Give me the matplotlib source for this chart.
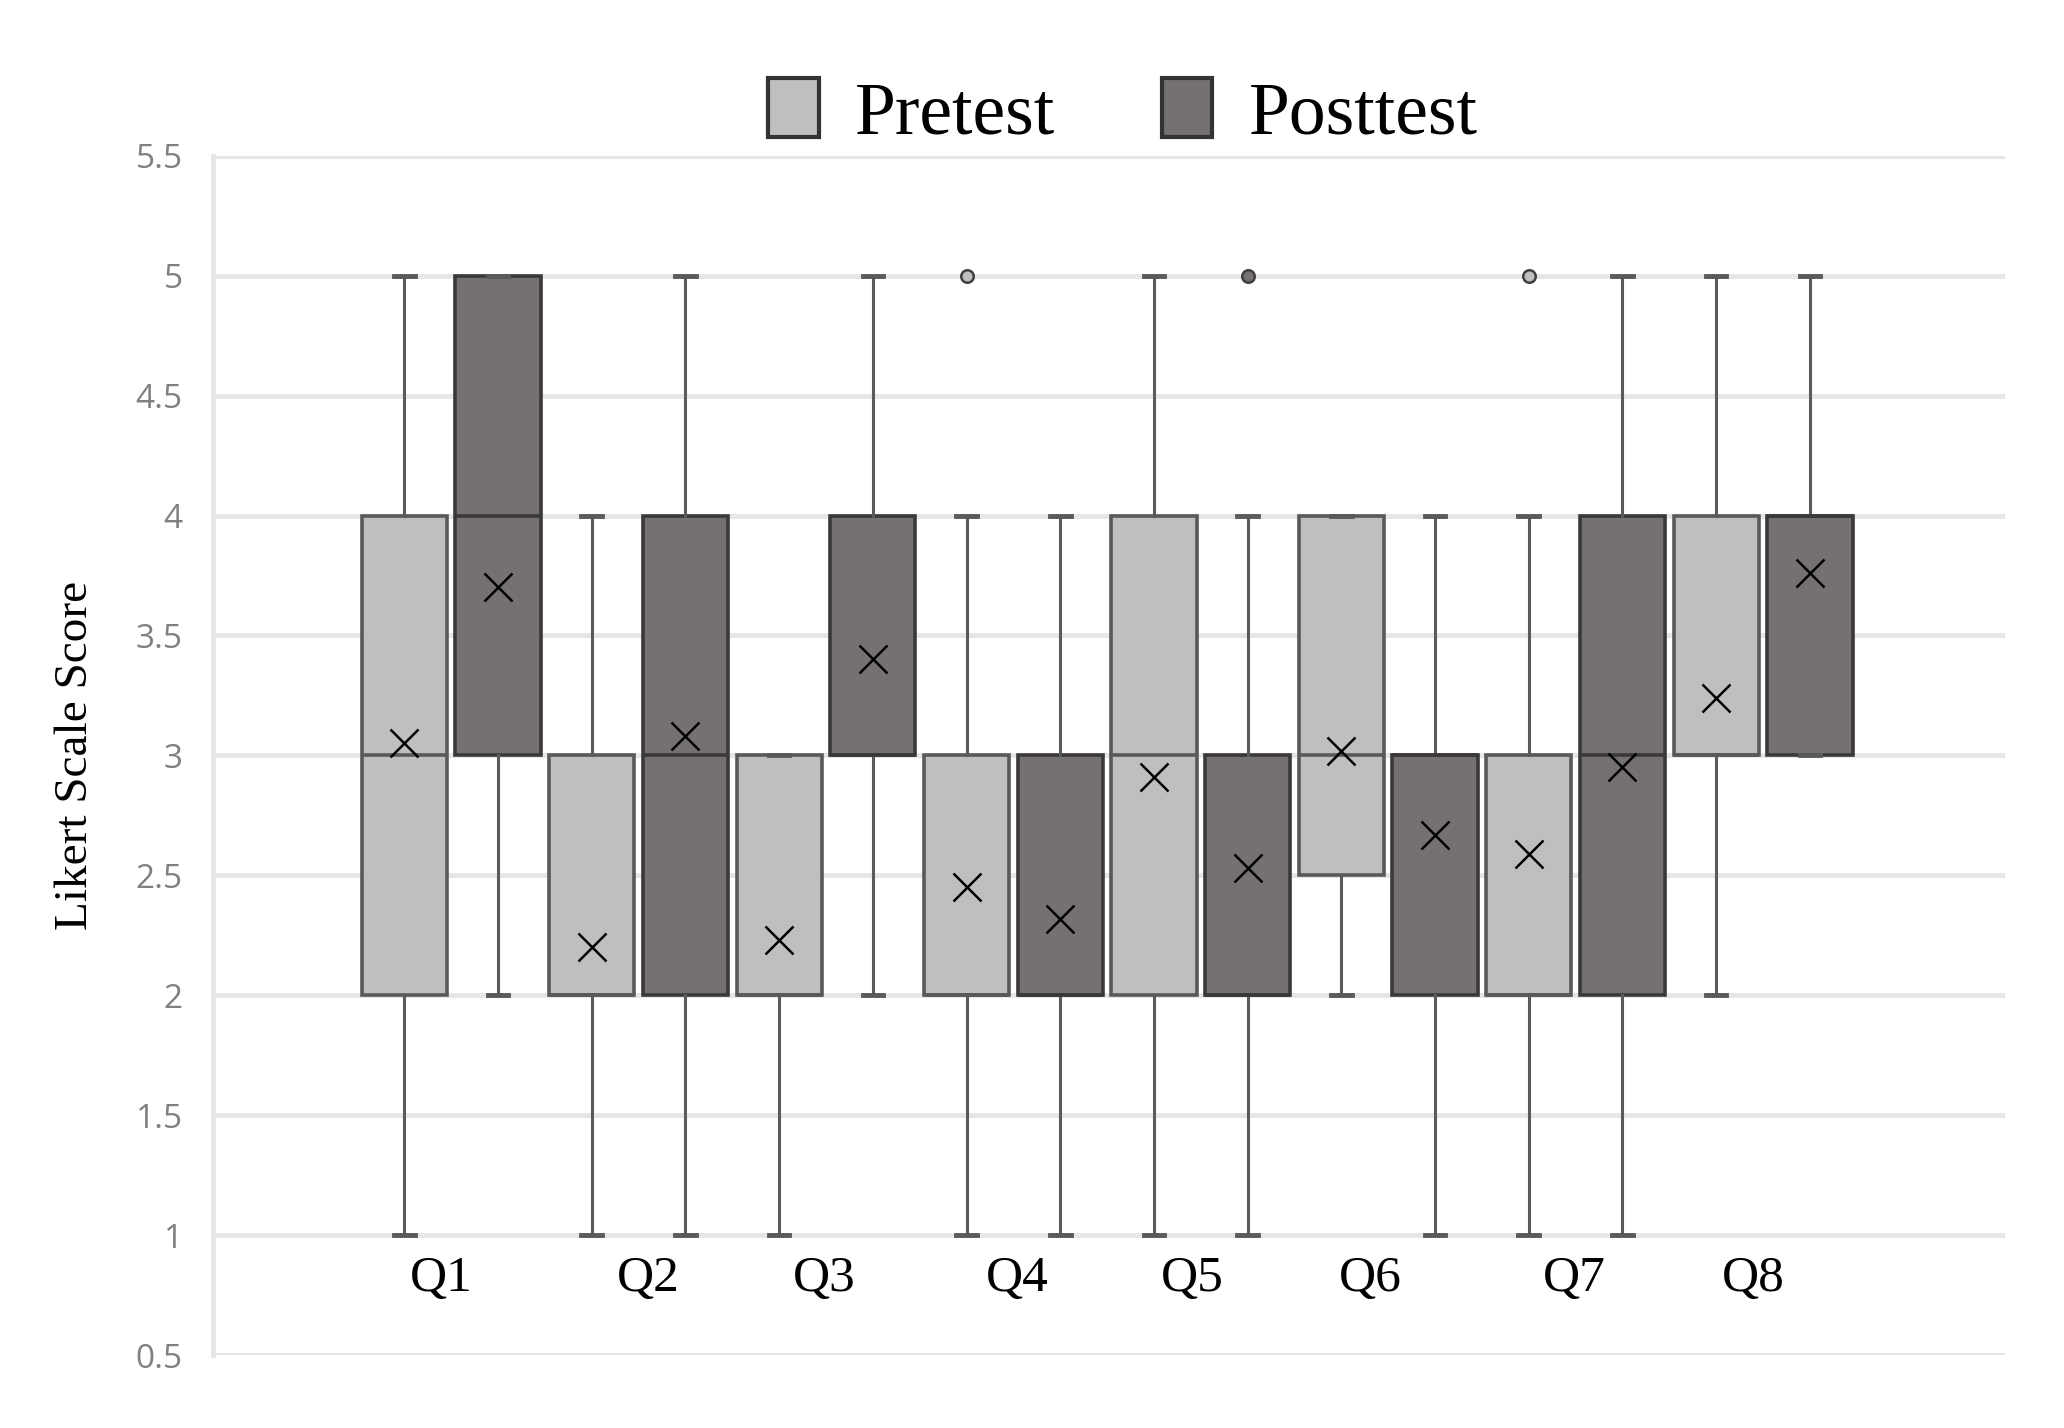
import matplotlib
matplotlib.use("Agg")
import matplotlib.pyplot as plt
from matplotlib.patches import Patch

questions = ["Q1", "Q2", "Q3", "Q4", "Q5", "Q6", "Q7", "Q8"]

# box statistics (Likert scores)
pre_lo    = [1, 1, 1, 1, 1, 2, 1, 2]
pre_q1    = [2, 2, 2, 2, 2, 2.5, 2, 3]
pre_med   = [3, 2, 2, 2, 3, 3, 2, 3]
pre_q3    = [4, 3, 3, 3, 4, 4, 3, 4]
pre_hi    = [5, 4, 3, 4, 5, 4, 4, 5]
pre_mean  = [3.05, 2.20, 2.23, 2.45, 2.91, 3.02, 2.59, 3.24]
pre_out   = [[], [], [], [5], [], [], [5], []]

post_lo   = [2, 1, 2, 1, 1, 1, 1, 3]
post_q1   = [3, 2, 3, 2, 2, 2, 2, 3]
post_med  = [4, 3, 3, 2, 2, 3, 3, 4]
post_q3   = [5, 4, 4, 3, 3, 3, 4, 4]
post_hi   = [5, 5, 5, 4, 4, 4, 5, 5]
post_mean = [3.70, 3.08, 3.40, 2.32, 2.53, 2.67, 2.95, 3.76]
post_out  = [[], [], [], [], [5], [], [], []]

# category labels sit where the original put them (not centred on the pairs)
label_pos = [1.39, 3.60, 5.48, 7.54, 9.41, 11.31, 13.49, 15.40]

pre_fill, pre_edge = "#bfbfbf", "#595959"
post_fill, post_edge = "#767171", "#3a3838"
grid_col = "#e6e6e6"

fig = plt.figure(figsize=(20.64, 14.28), dpi=100)
ax = fig.add_axes([0.1033, 0.051, 0.868, 0.840])


def stats(lo, q1, med, q3, hi, mean, out):
    return [dict(whislo=a, q1=b, med=c, q3=d, whishi=e, mean=m, fliers=f)
            for a, b, c, d, e, m, f in zip(lo, q1, med, q3, hi, mean, out)]


def draw(st, pos, fill, edge):
    ax.bxp(st, positions=pos, widths=0.91, capwidths=0.22,
           showmeans=True, patch_artist=True, manage_ticks=False,
           boxprops=dict(facecolor=fill, edgecolor=edge, linewidth=2.6),
           medianprops=dict(color=edge, linewidth=2.6),
           whiskerprops=dict(color="#5a5a5a", linewidth=2.2),
           capprops=dict(color="#5a5a5a", linewidth=3.5),
           meanprops=dict(marker="x", markersize=20, markeredgecolor="black",
                          markeredgewidth=1.8),
           flierprops=dict(marker="o", markersize=9, markerfacecolor=fill,
                           markeredgecolor="#404040", markeredgewidth=1.8),
           zorder=3)


pre_pos = [2 * i + 1 for i in range(len(questions))]
post_pos = [2 * i + 2 for i in range(len(questions))]
draw(stats(pre_lo, pre_q1, pre_med, pre_q3, pre_hi, pre_mean, pre_out), pre_pos, pre_fill, pre_edge)
draw(stats(post_lo, post_q1, post_med, post_q3, post_hi, post_mean, post_out), post_pos, post_fill, post_edge)

ax.set_xlim(-1.04, 18.08)
ax.set_ylim(0.5, 5.5)
yt = [0.5 + 0.5 * i for i in range(11)]
ax.set_yticks(yt)
ax.set_yticklabels([f"{v:g}" for v in yt], fontsize=24, color="#808080",
                   family="Open Sans")
ax.tick_params(axis="y", length=0, pad=22)
ax.set_xticks([])
ax.yaxis.grid(True, color=grid_col, linewidth=3.5, zorder=0)
ax.set_axisbelow(True)
for s in ["top", "right", "bottom"]:
    ax.spines[s].set_visible(False)
ax.spines["left"].set_color(grid_col)
ax.spines["left"].set_linewidth(3.5)

for q, x in zip(questions, label_pos):
    ax.text(x, 0.82, q, ha="center", va="center", fontsize=37,
            family="Liberation Serif")

ax.set_ylabel("Likert Scale Score", fontsize=34, family="Liberation Serif",
              labelpad=28)

handles = [Patch(facecolor=pre_fill, edgecolor="#333333", linewidth=3),
           Patch(facecolor=post_fill, edgecolor="#333333", linewidth=3)]
ax.legend(handles, ["Pretest", "Posttest"], loc="center",
          bbox_to_anchor=(0.508, 1.035), ncol=2, frameon=False,
          prop=dict(family="Liberation Serif", size=53),
          handlelength=0.68, handleheight=0.85, handletextpad=0.5,
          columnspacing=1.45)

fig.savefig("out.png", dpi=100)
